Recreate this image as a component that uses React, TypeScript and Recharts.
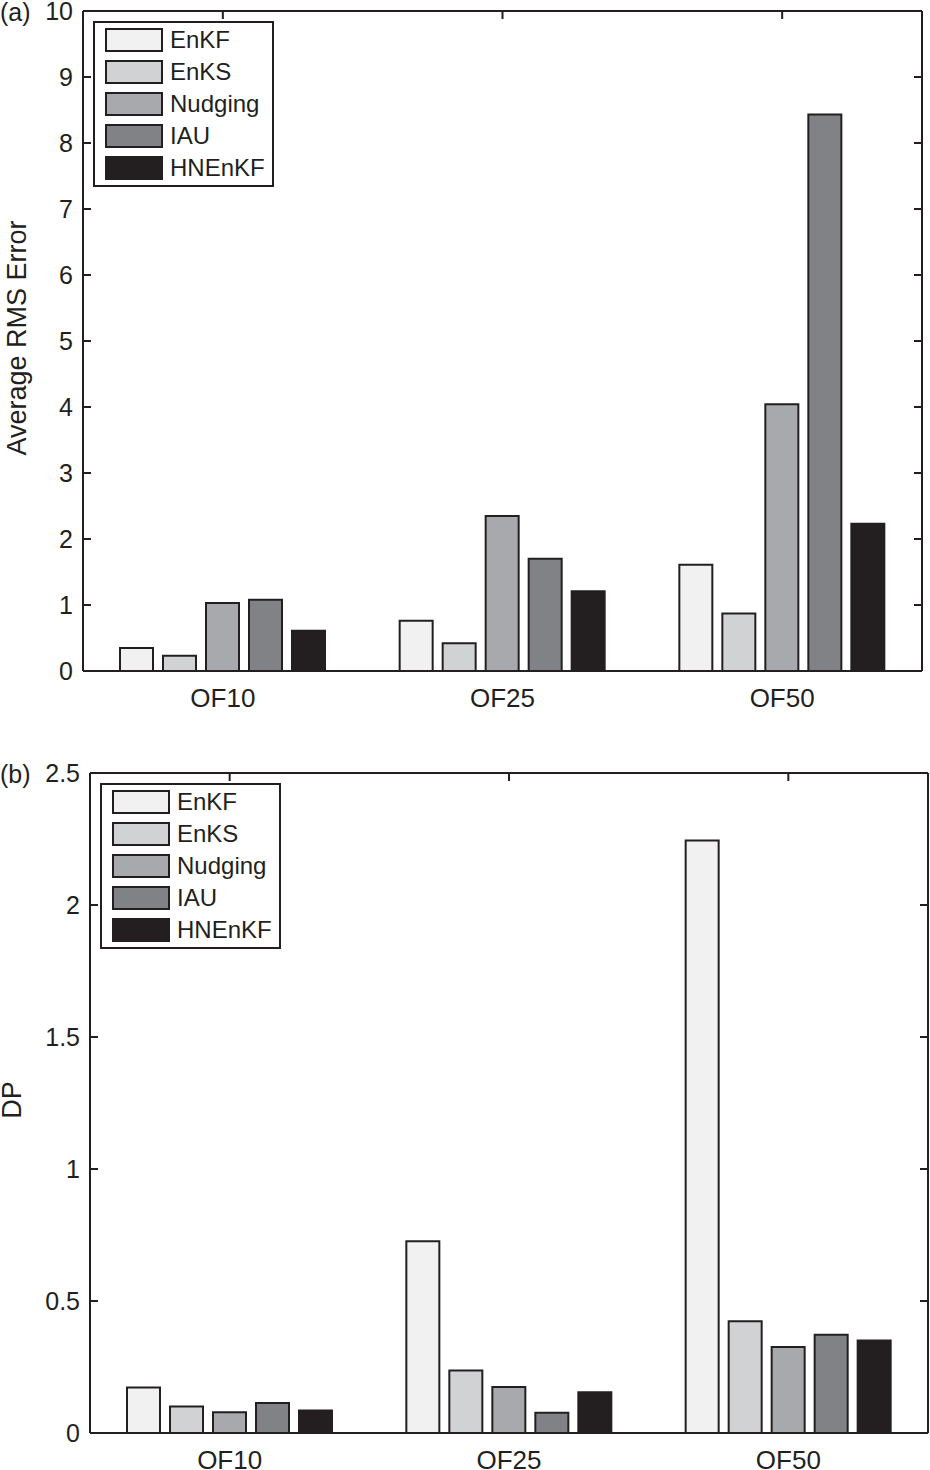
import React from 'react';
import { ComposedChart, Bar, Line, XAxis, YAxis, Legend } from 'recharts';

const FONT = '"Liberation Sans", Arial, Helvetica, sans-serif';
const INK = '#231f20';

const categories = ['OF10', 'OF25', 'OF50'];
const methods = ['EnKF', 'EnKS', 'Nudging', 'IAU', 'HNEnKF'];

// Panel (a): Average RMS Error
const rmsEnKF = [0.35, 0.76, 1.61];
const rmsEnKS = [0.23, 0.42, 0.87];
const rmsNudging = [1.03, 2.35, 4.04];
const rmsIAU = [1.08, 1.7, 8.43];
const rmsHNEnKF = [0.61, 1.21, 2.23];
const rmsTicks = [0, 1, 2, 3, 4, 5, 6, 7, 8, 9, 10];

// Panel (b): DP
const dpEnKF = [0.172, 0.726, 2.244];
const dpEnKS = [0.1, 0.237, 0.423];
const dpNudging = [0.079, 0.174, 0.326];
const dpIAU = [0.114, 0.077, 0.372];
const dpHNEnKF = [0.085, 0.154, 0.35];
const dpTicks = [0, 0.5, 1, 1.5, 2, 2.5];

const fills = ['#f1f1f2', '#d1d2d4', '#a7a9ac', '#808285', '#231f20'];

function buildRows(series: number[][]) {
  return categories.map((name, i) => {
    const row: Record<string, any> = { name };
    methods.forEach((m, j) => {
      row[m] = series[j][i];
    });
    return row;
  });
}

const rmsRows = buildRows([rmsEnKF, rmsEnKS, rmsNudging, rmsIAU, rmsHNEnKF]);
const dpRows = buildRows([dpEnKF, dpEnKS, dpNudging, dpIAU, dpHNEnKF]);

const LegendBox = (props: any) => {
  const seen: Record<string, boolean> = {};
  const payload = (props.payload || [])
    .filter((p: any) => p.type !== 'none' && methods.indexOf(p.value) >= 0)
    .filter((p: any) => (seen[p.value] ? false : (seen[p.value] = true)))
    .sort((a: any, b: any) => methods.indexOf(a.value) - methods.indexOf(b.value));
  return (
    <div
      style={{
        border: `2px solid ${INK}`,
        background: '#fff',
        width: 177,
        height: 162,
        position: 'relative',
        fontFamily: FONT,
        boxSizing: 'content-box',
      }}
    >
      {payload.map((p: any, i: number) => (
        <div
          key={p.value}
          style={{
            position: 'absolute',
            left: 10,
            top: 5 + i * 32,
            height: 24,
            display: 'flex',
            alignItems: 'center',
            whiteSpace: 'nowrap',
          }}
        >
          <div
            style={{
              width: 54,
              height: 20,
              background: p.color,
              border: `2px solid ${INK}`,
            }}
          />
          <span style={{ marginLeft: 7, fontSize: 24, lineHeight: '24px', color: INK }}>{p.value}</span>
        </div>
      ))}
    </div>
  );
};

type PanelProps = {
  rows: any[];
  ticks: number[];
  domain: [number, number];
  title: string;
  tag: string;
  top: number;
  height: number;
  margin: { top: number; right: number; bottom: number; left: number };
  yAxisWidth: number;
  xAxisHeight: number;
  titleX: number;
};

function Panel(p: PanelProps) {
  const axisStyle = { stroke: INK, strokeWidth: 2 };
  const titleLabel = (lp: any) => {
    const vb = lp.viewBox || { x: 0, y: 0, width: 0, height: 0 };
    const cy = vb.y + vb.height / 2 - 3;
    return (
      <g>
        <text
          x={p.titleX}
          y={cy}
          transform={`rotate(-90 ${p.titleX} ${cy})`}
          textAnchor="middle"
          fontSize={27}
          fontFamily={FONT}
          fill={INK}
        >
          {p.title}
        </text>
        <text x={0} y={vb.y + 1} dy="0.355em" fontSize={25} fontFamily={FONT} fill={INK}>
          {p.tag}
        </text>
      </g>
    );
  };
  return (
    <div style={{ position: 'absolute', left: 0, top: p.top }}>
      <ComposedChart
        width={930}
        height={p.height}
        data={p.rows}
        margin={p.margin}
        barCategoryGap={37}
        barGap={10}
      >
        <XAxis
          dataKey="name"
          xAxisId="bottom"
          height={p.xAxisHeight}
          axisLine={axisStyle}
          tickLine={false}
          tickSize={0}
          tickMargin={18}
          interval={0}
          tick={{ fontSize: 26, fill: INK, fontFamily: FONT }}
        />
        <XAxis
          dataKey="name"
          xAxisId="top"
          orientation="top"
          height={1}
          axisLine={axisStyle}
          tickLine={axisStyle}
          tickSize={-8}
          interval={0}
          tickFormatter={() => ''}
        />
        <YAxis
          yAxisId="left"
          type="number"
          domain={p.domain}
          ticks={p.ticks}
          interval={0}
          width={p.yAxisWidth}
          axisLine={axisStyle}
          tickLine={axisStyle}
          tickSize={-8}
          tickMargin={18}
          tick={{ fontSize: 25, fill: INK, fontFamily: FONT }}
          label={titleLabel}
        />
        <YAxis
          yAxisId="right"
          type="number"
          orientation="right"
          domain={p.domain}
          ticks={p.ticks}
          interval={0}
          width={1}
          axisLine={axisStyle}
          tickLine={axisStyle}
          tickSize={-8}
          tickFormatter={() => ''}
        />
        <Legend
          layout="vertical"
          align="center"
          verticalAlign="middle"
          wrapperStyle={{ left: p.margin.left + p.yAxisWidth + 10, top: p.margin.top + 11, width: 'auto' }}
          content={(lp: any) => <LegendBox {...lp} />}
        />
        {methods.map((m, j) => (
          <Bar
            key={m}
            dataKey={m}
            name={m}
            xAxisId="bottom"
            yAxisId="left"
            fill={fills[j]}
            stroke={INK}
            strokeWidth={2}
            isAnimationActive={false}
          />
        ))}
        {/* carrier for the box (top/right) axes; draws nothing */}
        <Line
          dataKey={methods[0]}
          xAxisId="top"
          yAxisId="right"
          stroke="none"
          dot={false}
          activeDot={false}
          legendType="none"
          isAnimationActive={false}
        />
      </ComposedChart>
    </div>
  );
}

export default function App() {
  return (
    <div style={{ position: 'absolute', left: 0, top: 0, width: 930, height: 1470, background: '#fff' }}>
      <Panel
        rows={rmsRows}
        ticks={rmsTicks}
        domain={[0, 10]}
        title="Average RMS Error"
        tag="(a)"
        top={0}
        height={740}
        margin={{ top: 10, right: 7, bottom: 19, left: 0 }}
        yAxisWidth={83}
        xAxisHeight={50}
        titleX={26}
      />
      <Panel
        rows={dpRows}
        ticks={dpTicks}
        domain={[0, 2.5]}
        title="DP"
        tag="(b)"
        top={740}
        height={730}
        margin={{ top: 32, right: 1, bottom: 0, left: 0 }}
        yAxisWidth={90}
        xAxisHeight={37}
        titleX={21}
      />
    </div>
  );
}
